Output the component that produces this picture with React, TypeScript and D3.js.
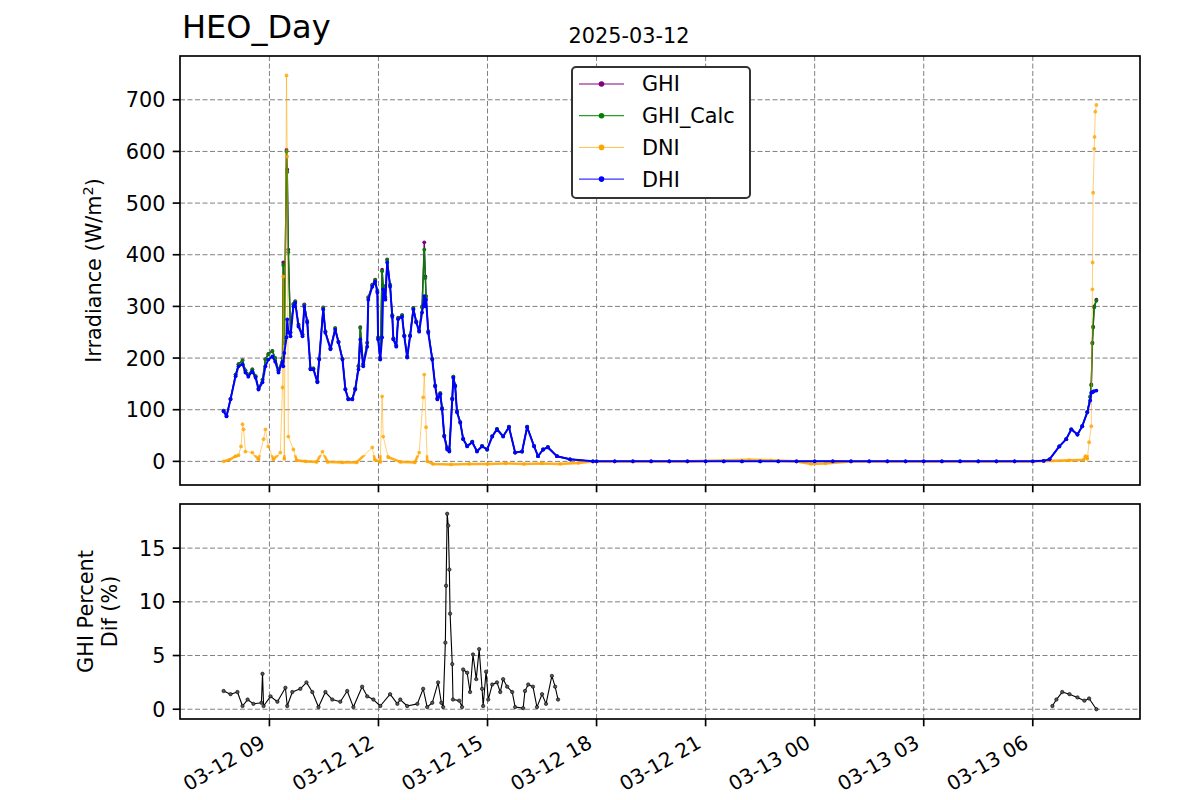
import React from "react";
import * as d3 from "d3";

// ---------- data (hours since 2025-03-12 00:00) ----------
const hours = [
  7.74, 7.82, 7.93, 8.07, 8.15, 8.26, 8.34, 8.42, 8.53, 8.62, 8.70, 8.81, 8.89, 8.97, 9.08, 9.16, 9.25, 9.36, 9.38, 9.41,
  9.47, 9.49, 9.52, 9.58, 9.66, 9.71, 9.80, 9.91, 9.96, 10.04, 10.13, 10.21, 10.32, 10.37, 10.48, 10.54, 10.68, 10.81, 10.90, 11.01,
  11.09, 11.17, 11.28, 11.36, 11.45, 11.50, 11.58, 11.69, 11.72, 11.83, 11.91, 11.97, 11.99, 12.05, 12.10, 12.13, 12.19, 12.24, 12.32, 12.38,
  12.41, 12.49, 12.54, 12.65, 12.71, 12.79, 12.87, 12.96, 13.04, 13.12, 13.20, 13.26, 13.29, 13.31, 13.37, 13.48, 13.56, 13.62, 13.70, 13.75,
  13.81, 13.89, 13.95, 14.03, 14.06, 14.11, 14.16, 14.25, 14.33, 14.44, 14.58, 14.71, 14.85, 14.99, 15.13, 15.26, 15.43, 15.59, 15.76, 15.95,
  16.09, 16.28, 16.39, 16.53, 16.66, 16.91, 17.27, 17.90,
  18.0, 18.5, 19.0, 19.5, 20.0, 20.5, 21.0, 21.5, 22.0, 22.5, 23.0, 23.5, 24.0, 24.5, 25.0, 25.5, 26.0, 26.5, 27.0, 27.5, 28.0, 28.5, 29.0, 29.5, 30.0,
  30.30, 30.46, 30.73, 30.92, 31.06, 31.23, 31.36, 31.50, 31.58, 31.61, 31.64, 31.66, 31.69, 31.75,
];

const dhi = [
  97, 87, 120, 165, 184, 188, 172, 164, 174, 162, 139, 153, 184, 197, 203, 193, 172, 193, 184, 210,
  240, 275, 250, 242, 300, 307, 261, 242, 300, 269, 178, 178, 153, 197, 294, 249, 217, 255, 230, 197,
  139, 120, 120, 139, 178, 236, 184, 222, 313, 338, 348, 327, 236, 197, 240, 333, 313, 385, 338, 280,
  236, 222, 275, 280, 242, 201, 242, 294, 269, 251, 288, 320, 300, 313, 249, 197, 145, 120, 130, 101,
  48, 23, 19, 120, 162, 145, 95, 75, 43, 29, 37, 19, 29, 23, 48, 62, 48, 66, 17, 19,
  66, 29, 10, 23, 27, 10, 4, 0,
  0, 0, 0, 0, 0, 0, 0, 0, 0, 0, 0, 0, 0, 0, 0, 0, 0, 0, 0, 0, 0, 0, 0, 0, 0,
  1, 4, 29, 43, 62, 52, 68, 95, 118, 133, 134, 135, 136, 137,
];

const ghi = [
  98, 88, 121, 168, 188, 196, 176, 168, 178, 165, 141, 158, 198, 208, 214, 200, 176, 200, 385, 230,
  603, 565, 410, 250, 305, 310, 265, 246, 304, 272, 180, 180, 155, 199, 298, 252, 219, 258, 232, 199,
  140, 121, 121, 141, 185, 260, 188, 230, 318, 342, 352, 330, 240, 200, 371, 340, 318, 391, 342, 283,
  238, 224, 278, 283, 244, 203, 244, 297, 271, 253, 300, 424, 358, 320, 252, 199, 147, 122, 132, 103,
  50, 27, 22, 122, 164, 147, 97, 76, 44, 30, 38, 20, 30, 23, 49, 63, 49, 67, 17, 19,
  67, 30, 10, 23, 28, 10, 4, 0,
  0, 0, 0, 0, 0, 0, 0, 0, 0, 0, 0, 0, 0, 0, 0, 0, 0, 0, 0, 0, 0, 0, 0, 0, 0,
  1, 4, 29, 43, 62, 52, 68, 96, 125, 149, 230, 261, 300, 313,
];

const ghiCalc = [
  98, 88, 121, 168, 188, 195, 176, 168, 178, 165, 141, 158, 197, 207, 213, 200, 176, 199, 380, 228,
  600, 560, 405, 249, 304, 309, 264, 245, 303, 271, 180, 180, 155, 199, 297, 251, 219, 258, 232, 199,
  140, 121, 121, 141, 184, 258, 188, 229, 317, 341, 351, 330, 240, 200, 368, 338, 317, 390, 341, 283,
  238, 224, 277, 283, 244, 203, 244, 297, 271, 253, 298, 410, 355, 318, 251, 199, 147, 122, 132, 103,
  50, 26, 22, 122, 164, 147, 97, 76, 44, 30, 38, 20, 30, 23, 49, 63, 49, 67, 17, 19,
  67, 30, 10, 23, 28, 10, 4, 0,
  0, 0, 0, 0, 0, 0, 0, 0, 0, 0, 0, 0, 0, 0, 0, 0, 0, 0, 0, 0, 0, 0, 0, 0, 0,
  1, 4, 29, 43, 62, 52, 68, 96, 125, 147, 228, 259, 298, 311,
];

const dniHours = [
  7.74, 7.90, 8.07, 8.15, 8.22, 8.26, 8.29, 8.34, 8.53, 8.70, 8.84, 8.89, 8.97, 9.11, 9.30, 9.36, 9.38, 9.41, 9.47, 9.49,
  9.52, 9.66, 9.75, 10.0, 10.3, 10.46, 10.6, 11.0, 11.4, 11.83, 11.9, 12.05, 12.10, 12.13, 12.27, 12.6, 13.0, 13.12, 13.23, 13.26,
  13.31, 13.34, 13.5, 14.0, 14.5, 15.0, 15.5, 16.0, 16.5, 17.0, 17.5, 17.9, 19.0, 20.5, 22.2, 22.8, 23.5, 23.9, 24.3, 25.0,
  27.0, 29.0, 30.0, 31.0, 31.4, 31.45, 31.5, 31.55, 31.61, 31.64, 31.645, 31.66, 31.69, 31.70, 31.72, 31.75,
];
const dni = [
  0, 3, 10, 12, 29, 72, 62, 19, 17, 4, 43, 62, 29, 4, 17, 143, 358, 5, 747, 590,
  48, 23, 2, 0, -1, 19, -1, -2, -2, 27, 3, -1, 126, 48, 8, -1, -2, 17, 124, 168,
  66, 0, -5, -6, -5, -5, -4, -5, -4, -5, -3, 0, 0, 0, 3, 2, 0, -5, -4, 0,
  0, 0, 0, 2, 3, 10, 5, 37, 68, 333, 385, 520, 605, 628, 677, 690,
];

const pctHours = [
  7.74, 7.93, 8.12, 8.26, 8.40, 8.56, 8.78, 8.81, 8.84, 9.03, 9.22, 9.44, 9.49, 9.63, 9.85, 10.02, 10.18, 10.35, 10.54, 10.73,
  10.95, 11.14, 11.31, 11.55, 11.69, 11.86, 12.05, 12.32, 12.52, 12.60, 12.79, 13.07, 13.23, 13.34, 13.48, 13.64, 13.73, 13.78, 13.84, 13.86,
  13.89, 13.92, 13.95, 13.97, 14.03, 14.05, 14.22, 14.30, 14.33, 14.44, 14.52, 14.60, 14.69, 14.77, 14.85, 14.88, 14.96, 15.02, 15.13, 15.26,
  15.35, 15.43, 15.54, 15.68, 15.76, 15.98, 16.03, 16.12, 16.25, 16.36, 16.50, 16.61, 16.77, 16.86, 16.94,
  20.0,
  30.54, 30.65, 30.81, 31.01, 31.23, 31.42, 31.55, 31.75,
];
const pctDif: (number | null)[] = [
  1.7, 1.4, 1.6, 0.3, 0.9, 0.5, 0.6, 3.3, 0.3, 1.2, 0.7, 2.0, 0.3, 1.6, 1.9, 2.5, 1.6, 0.2, 1.6, 0.9,
  0.7, 1.7, 0.2, 2.1, 1.2, 0.9, 0.3, 1.4, 0.5, 0.9, 0.3, 0.5, 1.9, 0.2, 0.6, 2.5, 0.6, 0.2, 6.2, 11.5,
  18.2, 17.1, 13.0, 8.9, 4.2, 0.9, 0.8, 0.2, 3.7, 3.4, 1.6, 5.1, 2.8, 5.6, 1.9, 0.3, 3.5, 0.9, 2.3, 2.5,
  1.6, 2.8, 2.1, 1.6, 0.2, 0.1, 1.7, 2.3, 2.1, 0.2, 1.4, 0.5, 3.1, 2.1, 0.9,
  null,
  0.3, 0.9, 1.6, 1.4, 1.1, 0.8, 1.0, 0.0,
];

const xTickHours = [9, 12, 15, 18, 21, 24, 27, 30];
const xTickLabels = ["03-12 09", "03-12 12", "03-12 15", "03-12 18", "03-12 21", "03-13 00", "03-13 03", "03-13 06"];
const topYTicks = [0, 100, 200, 300, 400, 500, 600, 700];
const bottomYTicks = [0, 5, 10, 15];

const seriesNames = ["GHI", "GHI_Calc", "DNI", "DHI"];
const seriesColors = ["#800080", "#008000", "#FFA500", "#0000FF"];

// ---------- layout ----------
const W = 1200;
const H = 800;
const L = 180;
const R = 1140;
const TOP1 = 56;
const BOT1 = 485;
const TOP2 = 504;
const BOT2 = 719;
const FONT = "'DejaVu Sans', sans-serif";
const FS = 20.8;
const TICK = 7.3;
const PAD = 7.3;

export default function App() {
  const x = d3.scaleLinear().domain([6.54, 32.95]).range([L, R]);
  const y1 = d3.scaleLinear().domain([-45.75, 784.75]).range([BOT1, TOP1]);
  const y2 = d3.scaleLinear().domain([-0.91, 19.11]).range([BOT2, TOP2]);

  const mk = (xs: number[], ys: (number | null)[]) =>
    xs.map((t, i) => ({ t, v: ys[i] }));

  const topSeries = [
    mk(hours, ghi),
    mk(hours, ghiCalc),
    mk(dniHours, dni),
    mk(hours, dhi),
  ];
  const pctData = mk(pctHours, pctDif);

  const line1 = d3
    .line<{ t: number; v: number | null }>()
    .defined((d) => d.v !== null)
    .x((d) => x(d.t))
    .y((d) => y1(d.v as number));
  const line2 = d3
    .line<{ t: number; v: number | null }>()
    .defined((d) => d.v !== null)
    .x((d) => x(d.t))
    .y((d) => y2(d.v as number));

  const grid = { stroke: "#808080", strokeWidth: 1, strokeDasharray: "5,2.5" };

  const xGrid = (top: number, bot: number) =>
    xTickHours.map((h) => (
      <line key={"g" + h} x1={x(h)} x2={x(h)} y1={top} y2={bot} {...grid} />
    ));
  const xTicks = (bot: number) =>
    xTickHours.map((h) => (
      <line key={"t" + h} x1={x(h)} x2={x(h)} y1={bot} y2={bot + TICK} stroke="#000" strokeWidth={1.67} />
    ));

  const lineOpacity = [1, 1, 0.6, 1];
  const lineWidth = [1.4, 1.4, 0.9, 2.0];
  // band of dense near-zero DNI markers (rendered thicker)
  const bandTop = y1(12);
  const bandBot = y1(-12);

  return (
    <svg width={W} height={H} style={{ position: "absolute", left: 0, top: 0, background: "#fff" }} fontFamily={FONT}>
      <defs>
        <clipPath id="c1">
          <rect x={L} y={TOP1} width={R - L} height={BOT1 - TOP1} />
        </clipPath>
        <clipPath id="cband">
          <rect x={L} y={bandTop} width={R - L} height={bandBot - bandTop} />
        </clipPath>
        <clipPath id="c2">
          <rect x={L} y={TOP2} width={R - L} height={BOT2 - TOP2} />
        </clipPath>
      </defs>
      <rect x={0} y={0} width={W} height={H} fill="#fff" />

      {/* titles */}
      <text x={182} y={38} fontSize={32} fill="#000">HEO_Day</text>
      <text x={629} y={43} fontSize={FS} textAnchor="middle" fill="#000">2025-03-12</text>

      {/* ---------- top axes ---------- */}
      <g>
        {xGrid(TOP1, BOT1)}
        {topYTicks.map((v) => (
          <line key={"yg" + v} x1={L} x2={R} y1={y1(v)} y2={y1(v)} {...grid} />
        ))}
        <g clipPath="url(#c1)">
          {topSeries.map((s, i) => (
            <g key={"s" + i}>
              <path
                d={line1(s) || ""}
                fill="none"
                stroke={seriesColors[i]}
                strokeWidth={lineWidth[i]}
                strokeOpacity={lineOpacity[i]}
                strokeLinejoin="round"
              />
              {i === 2 && (
                <path
                  d={line1(s) || ""}
                  fill="none"
                  stroke={seriesColors[i]}
                  strokeWidth={2.6}
                  strokeOpacity={0.85}
                  strokeLinejoin="round"
                  clipPath="url(#cband)"
                />
              )}
              {s.map((d, j) => (
                <circle
                  key={j}
                  cx={x(d.t)}
                  cy={y1(d.v as number)}
                  r={1.9}
                  fill={seriesColors[i]}
                  fillOpacity={i === 2 ? 0.8 : 1}
                />
              ))}
            </g>
          ))}
        </g>
        <rect x={L} y={TOP1} width={R - L} height={BOT1 - TOP1} fill="none" stroke="#000" strokeWidth={1.67} />
        {xTicks(BOT1)}
        {topYTicks.map((v) => (
          <g key={"yt" + v}>
            <line x1={L - TICK} x2={L} y1={y1(v)} y2={y1(v)} stroke="#000" strokeWidth={1.67} />
            <text x={L - TICK - PAD} y={y1(v)} dy="0.36em" fontSize={FS} textAnchor="end" fill="#000">
              {v}
            </text>
          </g>
        ))}
        <text transform={`translate(101,${(TOP1 + BOT1) / 2}) rotate(-90)`} fontSize={FS} textAnchor="middle" fill="#000">
          Irradiance (W/m
          <tspan fontSize={14.5} dy={-8}>2</tspan>
          <tspan dy={8}>)</tspan>
        </text>

        {/* legend */}
        <rect x={572} y={67} width={178} height={131} rx={4} fill="#fff" stroke="#333" strokeWidth={2} />
        {seriesNames.map((n, i) => {
          const cy = 84 + i * 31.7;
          return (
            <g key={"lg" + n}>
              <line
                x1={579}
                x2={624}
                y1={cy}
                y2={cy}
                stroke={seriesColors[i]}
                strokeWidth={1}
                strokeOpacity={i === 2 ? 0.7 : 1}
              />
              <circle cx={601.5} cy={cy} r={2.8} fill={seriesColors[i]} />
              <text x={642} y={cy} dy="0.36em" fontSize={FS} fill="#000">
                {n}
              </text>
            </g>
          );
        })}
      </g>

      {/* ---------- bottom axes ---------- */}
      <g>
        {xGrid(TOP2, BOT2)}
        {bottomYTicks.map((v) => (
          <line key={"yg2" + v} x1={L} x2={R} y1={y2(v)} y2={y2(v)} {...grid} />
        ))}
        <g clipPath="url(#c2)">
          <path d={line2(pctData) || ""} fill="none" stroke="#000" strokeWidth={1.1} strokeLinejoin="round" />
          {pctData
            .filter((d) => d.v !== null)
            .map((d, j) => (
              <circle
                key={j}
                cx={x(d.t)}
                cy={y2(d.v as number)}
                r={1.7}
                fill="#555"
                stroke="#000"
                strokeWidth={0.6}
              />
            ))}
        </g>
        <rect x={L} y={TOP2} width={R - L} height={BOT2 - TOP2} fill="none" stroke="#000" strokeWidth={1.67} />
        {xTicks(BOT2)}
        {bottomYTicks.map((v) => (
          <g key={"yt2" + v}>
            <line x1={L - TICK} x2={L} y1={y2(v)} y2={y2(v)} stroke="#000" strokeWidth={1.67} />
            <text x={L - TICK - PAD} y={y2(v)} dy="0.36em" fontSize={FS} textAnchor="end" fill="#000">
              {v}
            </text>
          </g>
        ))}
        {xTickHours.map((h, i) => (
          <text
            key={"xl" + h}
            transform={`translate(${x(h) - 3},${BOT2 + TICK + PAD + 13}) rotate(-30)`}
            fontSize={20}
            textAnchor="end"
            fill="#000"
          >
            {xTickLabels[i]}
          </text>
        ))}
        <text
          transform={`translate(93,${(TOP2 + BOT2) / 2}) rotate(-90)`}
          fontSize={FS}
          textAnchor="middle"
          fill="#000"
        >
          GHI Percent
        </text>
        <text
          transform={`translate(117,${(TOP2 + BOT2) / 2}) rotate(-90)`}
          fontSize={FS}
          textAnchor="middle"
          fill="#000"
        >
          Dif (%)
        </text>
      </g>
    </svg>
  );
}
